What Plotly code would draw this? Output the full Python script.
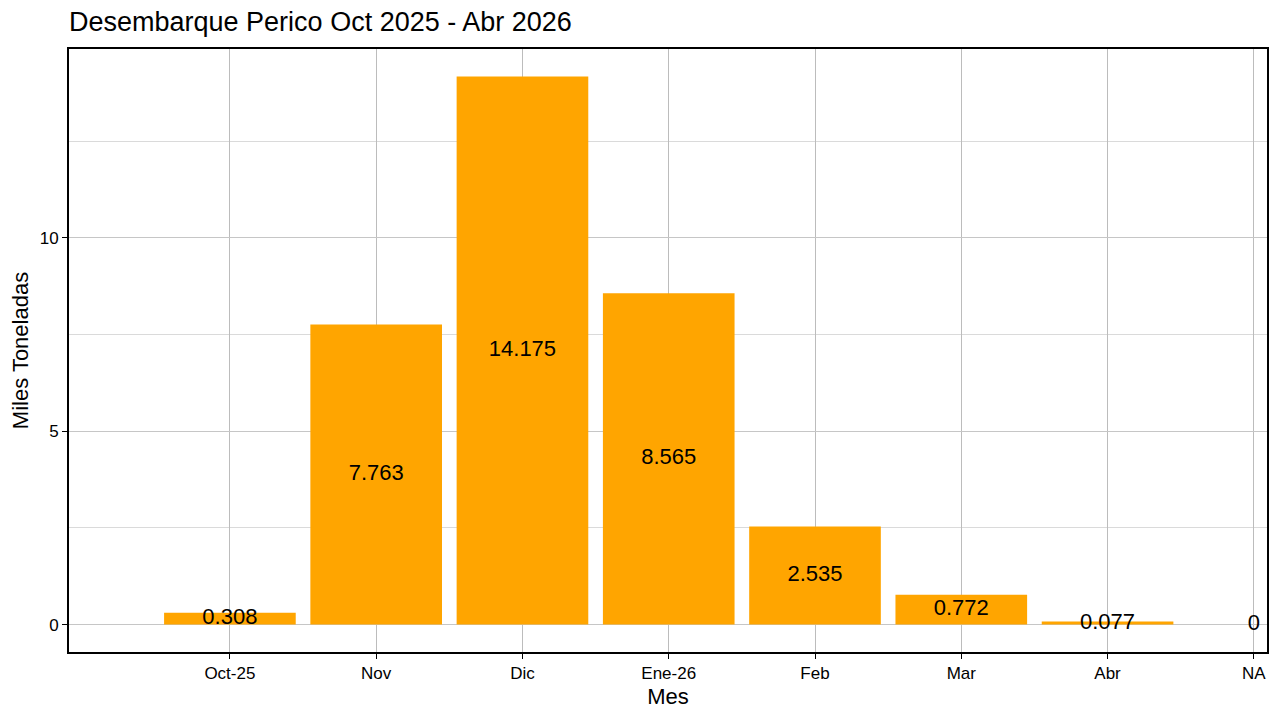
import plotly.graph_objects as go

meses = ["Oct-25", "Nov", "Dic", "Ene-26", "Feb", "Mar", "Abr", "NA"]
toneladas = [0.308, 7.763, 14.175, 8.565, 2.535, 0.772, 0.077, 0]
etiquetas = ["0.308", "7.763", "14.175", "8.565", "2.535", "0.772", "0.077", "0"]

fuente = "Liberation Sans, Arial, sans-serif"

# la pagina deja 8px de margen en el body, se descuenta aqui
W, H = 1264, 704

fig = go.Figure()

# barras
fig.add_trace(go.Bar(
    x=meses, y=toneladas, width=0.9,
    marker=dict(color="#FFA500", line=dict(width=0)),
    showlegend=False, hoverinfo="x+y"
))

# etiquetas a media altura de cada barra
fig.add_trace(go.Scatter(
    x=meses, y=[v / 2 for v in toneladas],
    mode="text", text=etiquetas,
    textfont=dict(size=22, family=fuente, color="black"),
    textposition="middle center", showlegend=False, hoverinfo="skip",
    cliponaxis=False
))

fig.update_layout(
    width=W, height=H,
    margin=dict(l=61, r=5, t=41, b=60, autoexpand=False),
    plot_bgcolor="white", paper_bgcolor="white",
    font=dict(family=fuente, color="black"),
    title=dict(
        text="Desembarque Perico Oct 2025 - Abr 2026",
        font=dict(size=27, family=fuente, color="black"),
        x=61 / W, xanchor="left", xref="container",
        y=1 - 14 / H, yanchor="middle", yref="container"
    ),
    xaxis=dict(
        type="category",
        categoryorder="array", categoryarray=meses,
        range=[-1.1, 7.09],
        automargin=False,
        showgrid=True, gridcolor="#bcbcbc", gridwidth=1,
        showline=True, linecolor="black", linewidth=2, mirror=True,
        ticks="outside", ticklen=5, tickcolor="black", tickwidth=1,
        tickfont=dict(size=17, family=fuente, color="black"),
        title=dict(text="Mes", font=dict(size=22, family=fuente, color="black"), standoff=6),
        zeroline=False
    ),
    yaxis=dict(
        range=[-0.709, 14.884],
        tickvals=[0, 5, 10],
        automargin=False,
        showgrid=True, gridcolor="#c6c6c6", gridwidth=1,
        minor=dict(tickvals=[2.5, 7.5, 12.5], showgrid=True, gridcolor="#dadada", gridwidth=1, ticks=""),
        showline=True, linecolor="black", linewidth=2, mirror=True,
        ticks="outside", ticklen=5, tickcolor="black", tickwidth=1,
        tickfont=dict(size=17, family=fuente, color="black"),
        title=dict(text="Miles Toneladas", font=dict(size=22, family=fuente, color="black"), standoff=8),
        zeroline=False
    ),
    bargap=0.1
)

fig.write_html("out.html")
